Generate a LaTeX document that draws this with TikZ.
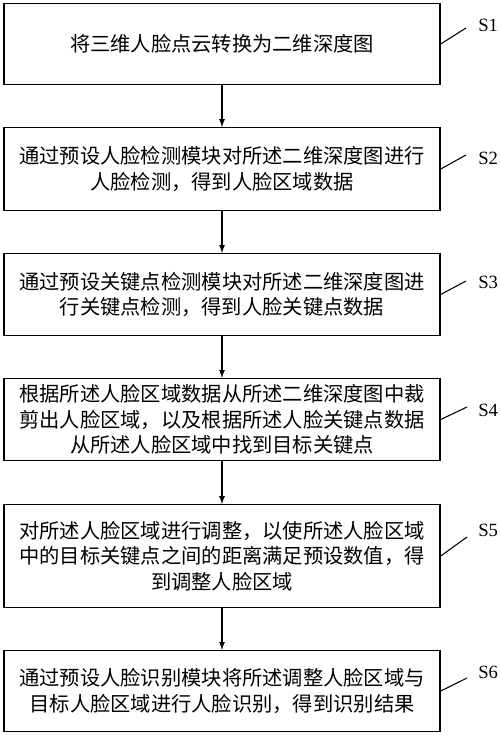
\documentclass[tikz,border=0pt]{standalone}
\usepackage{fontspec}
\setmainfont{Liberation Serif}
\newfontfamily\cjk{Noto Sans CJK SC}
\usepackage{tikz}
\tikzset{
        stepbox/.style={draw,line width=1.1pt,minimum width=327pt,inner sep=0pt,
          align=center,font=\cjk\fontsize{15.2}{19}\selectfont},
        steplabel/.style={anchor=west,inner sep=0pt,font=\fontsize{14}{16}\selectfont}
    }

\begin{document}
\begin{tikzpicture}[x=0.75pt,y=-0.75pt,>=latex]
\useasboundingbox (0,0) rectangle (500,735);

\draw (222,44) node(ONE)[stepbox,minimum height=60.75pt]{将三维人脸点云转换为二维深度图};
\draw (222,169) node(TWO)[stepbox,minimum height=62pt]{通过预设人脸检测模块对所述二维深度图进行\\人脸检测，得到人脸区域数据};
\draw (222,294.5) node(THREE)[stepbox,minimum height=61.5pt]{通过预设关键点检测模块对所述二维深度图进\\行关键点检测，得到人脸关键点数据};
\draw (222,419.5) node(FOUR)[stepbox,minimum height=61.5pt]{根据所述人脸区域数据从所述二维深度图中裁\\剪出人脸区域，以及根据所述人脸关键点数据\\从所述人脸区域中找到目标关键点};
\draw (222,556) node(FIVE)[stepbox,minimum height=77pt]{对所述人脸区域进行调整，以使所述人脸区域\\中的目标关键点之间的距离满足预设数值，得\\到调整人脸区域};
\draw (222,691) node(SIX)[stepbox,minimum height=60.75pt]{通过预设人脸识别模块将所述调整人脸区域与\\目标人脸区域进行人脸识别，得到识别结果};

\draw (466,28) coordinate(L1);
\draw (466,155) coordinate(L2);
\draw (466,281) coordinate(L3);
\draw (467,407) coordinate(L4);
\draw (467,537) coordinate(L5);
\draw (467,678) coordinate(L6);

\draw (478,25) node(S1)[steplabel]{S1};
\draw (478,158) node(S2)[steplabel]{S2};
\draw (478,282) node(S3)[steplabel]{S3};
\draw (478,410) node(S4)[steplabel]{S4};
\draw (478,530) node(S5)[steplabel]{S5};
\draw (478,672) node(S6)[steplabel]{S6};

\draw[line width=1pt,->] (ONE) -- (TWO);
\draw[line width=1pt,->] (TWO) -- (THREE);
\draw[line width=1pt,->] (THREE) -- (FOUR);
\draw[line width=1pt,->] (FOUR) -- (FIVE);
\draw[line width=1pt,->] (FIVE) -- (SIX);

\draw[line width=0.8pt] (ONE.east) -- (L1);
\draw[line width=0.8pt] (TWO.east) -- (L2);
\draw[line width=0.8pt] (THREE.east) -- (L3);
\draw[line width=0.8pt] (FOUR.east) -- (L4);
\draw[line width=0.8pt] (FIVE.east) -- (L5);
\draw[line width=0.8pt] (SIX.east) -- (L6);

\end{tikzpicture}
\end{document}
